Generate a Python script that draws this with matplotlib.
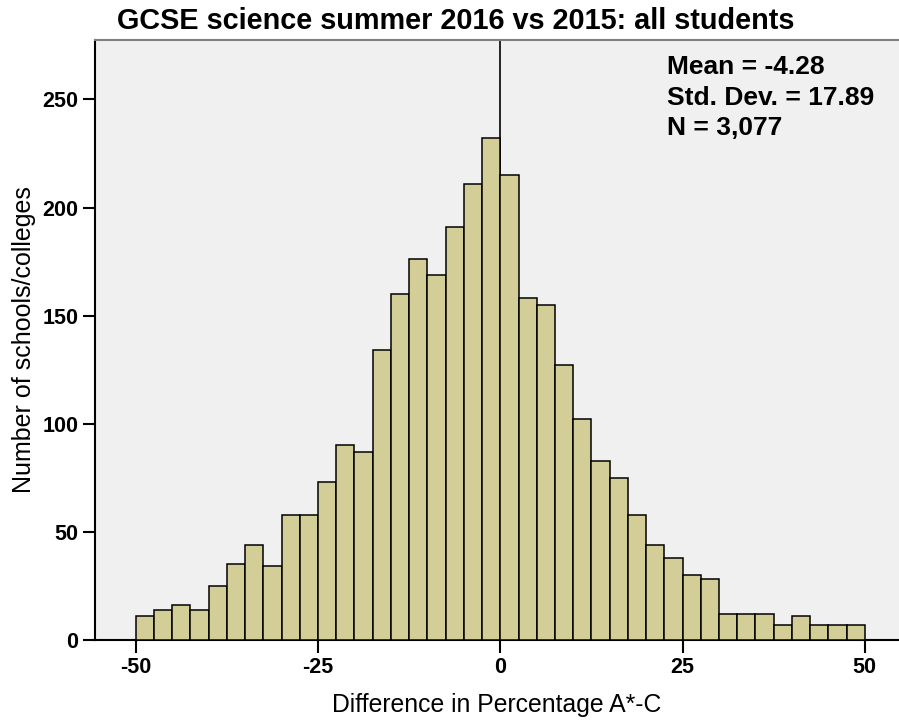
import numpy as np
import matplotlib
matplotlib.use("Agg")
import matplotlib.pyplot as plt

# bin edges every 2.5 points from -50 to 50
bin_edges = [-50 + 2.5 * i for i in range(41)]
counts = [
    11, 14, 16, 14, 25, 35, 44, 34, 58, 58,
    73, 90, 87, 134, 160, 176, 169, 191, 211, 232,
    215, 158, 155, 127, 102, 83, 75, 58, 44, 38,
    30, 28, 12, 12, 12, 7, 11, 7, 7, 7,
]
x_ticks = [-50, -25, 0, 25, 50]
y_ticks = [0, 50, 100, 150, 200, 250]
title = "GCSE science summer 2016 vs 2015: all students"
stats_lines = ["Mean = -4.28", "Std. Dev. = 17.89", "N = 3,077"]

plt.rcParams["font.family"] = ["Liberation Sans", "DejaVu Sans"]
plt.rcParams["axes.unicode_minus"] = False

fig = plt.figure(figsize=(8.99, 7.21), dpi=100)
ax = fig.add_axes([95 / 899, 81 / 721, 804 / 899, 600 / 721])
ax.set_facecolor("#F0F0F0")

lefts = np.array(bin_edges[:-1])
widths = np.diff(bin_edges)
ax.bar(lefts, counts, width=widths, align="edge", color="#D3CE97",
       edgecolor="black", linewidth=1.1, zorder=3)
ax.axvline(0, color="black", linewidth=1.2, zorder=2)

ax.set_xlim(-55.6, 54.7)
ax.set_ylim(0, 277.5)
ax.set_xticks(x_ticks)
ax.set_yticks(y_ticks)
ax.tick_params(length=9, width=1.5, direction="out", pad=3)
for lab in ax.get_xticklabels() + ax.get_yticklabels():
    lab.set_family(["Liberation Sans Narrow", "Liberation Sans"])
    lab.set_fontsize(15.5)
    lab.set_fontweight("bold")

ax.spines["right"].set_visible(False)
ax.spines["top"].set_color("#808080")
ax.spines["top"].set_linewidth(1.5)
ax.spines["left"].set_linewidth(1.5)
ax.spines["bottom"].set_linewidth(1.5)

ax.set_xlabel("Difference in Percentage A*-C", fontsize=17.8)
ax.set_ylabel("Number of schools/colleges", fontsize=18)
ax.xaxis.set_label_coords(0.5, -0.088)
ax.yaxis.set_label_coords(-0.073, 0.5)

fig.text(456 / 899, 1 - 21 / 721, title, ha="center", va="center",
         fontsize=20.8, fontweight="bold")

for i, line in enumerate(stats_lines):
    ax.text(0.711, 0.975 - i * 0.051, line, transform=ax.transAxes,
            ha="left", va="top", fontsize=19, fontweight="bold")

fig.savefig("out.png", dpi=100)
